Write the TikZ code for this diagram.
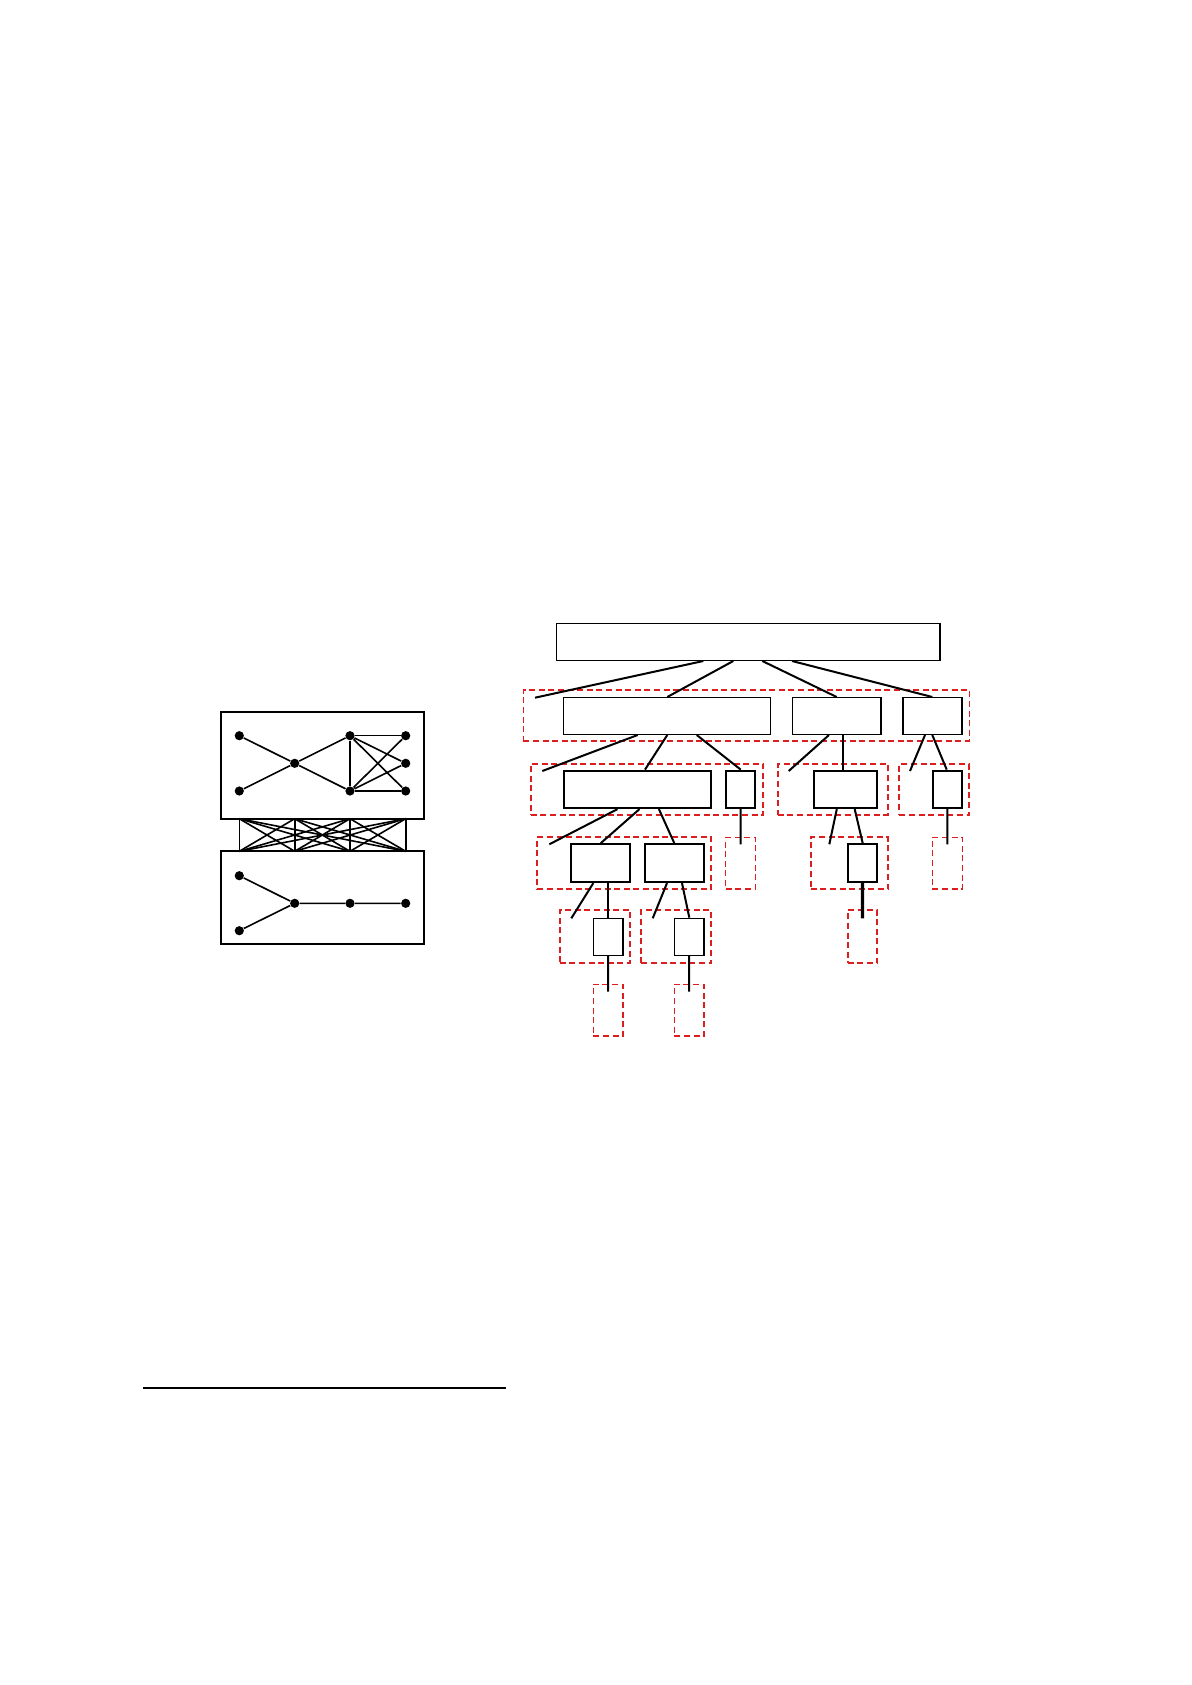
\documentclass[tikz,border=0pt]{standalone}
\usetikzlibrary{fit}
\definecolor{dred}{RGB}{220,30,30}
\tikzset{
  box/.style={draw,inner sep=0pt,line width=0.7pt},
  tbox/.style={box,line width=1.1pt},
  grp/.style={draw=dred,dash pattern=on 3pt off 1.8pt,inner sep=0pt,line width=0.7pt},
  tgrp/.style={grp,line width=1.1pt},
  edge/.style={line width=1pt},
  dot/.style={circle,fill,inner sep=0pt,minimum size=4.6pt},
}
\begin{document}
\begin{tikzpicture}[x=0.5pt,y=-0.5pt]
\useasboundingbox (0,0) rectangle (1191,1685);

% left: two blocks joined by a complete band
\node[box,line width=1.1pt,fit={(220.7,712) (424,818.7)}] (up) {};
\node[box,line width=1.1pt,fit={(220.7,851.3) (424,944.3)}] (lo) {};
\node[dot] (u1) at (239.3,735.7) {};
\node[dot] (u2) at (239.3,791) {};
\node[dot] (uc) at (294.7,763.3) {};
\node[dot] (ud1) at (350,735.7) {};
\node[dot] (ud2) at (350,791) {};
\node[dot] (ue1) at (405.7,735.7) {};
\node[dot] (ue2) at (405.7,763.3) {};
\node[dot] (ue3) at (405.7,791) {};
\draw[edge,line width=0.8pt] (u1)--(uc)--(ud1) (u2)--(uc)--(ud2);
\draw[edge,line width=1.1pt] (ud1)--(ud2);
\draw[line width=0.6pt] (ud1)--(ue1) (ud2)--(ue3);
\draw[edge,line width=0.8pt] (ud1)--(ue2) (ud1)--(ue3) (ud2)--(ue1) (ud2)--(ue2);
\foreach \x [count=\i] in {239.3,294.7,350,405.7} {
  \coordinate (t\i) at (\x,818.7);
  \coordinate (b\i) at (\x,851.3);
}
\foreach \i in {1,...,4}
  \foreach \j in {1,...,4}
    \draw[line width=0.8pt] (t\i)--(b\j);
\node[dot] (l1) at (239.3,875.7) {};
\node[dot] (l2) at (239.3,930.7) {};
\node[dot] (lc) at (294.7,903.3) {};
\node[dot] (ld) at (350,903.3) {};
\node[dot] (le) at (405.7,903.3) {};
\draw[edge,line width=0.8pt] (l1)--(lc) (l2)--(lc) (lc)--(ld)--(le);

% right: tree with dashed groups
\node[box,fit={(556.3,623.7) (940,660.3)}] (top) {};
\node[grp,fit={(523.3,690) (969.3,741)}] (g1) {};
\node[box,fit={(563.7,697.7) (770.3,734.3)}] (A) {};
\node[box,fit={(792.3,697.7) (881,734.3)}] (B) {};
\node[box,fit={(903,697.7) (962,734.3)}] (C) {};
\coordinate (f1) at (535,697.7);
\draw[edge] (top.south -| 703.3,0) -- (f1);
\draw[edge] (top.south -| 733.3,0) -- (A.north -| 667.3,0);
\draw[edge] (top.south -| 762.3,0) -- (B.north -| 836.7,0);
\draw[edge] (top.south -| 792,0) -- (C.north -| 932.3,0);

\node[tgrp,fit={(530.7,764) (763.3,815)}] (g21) {};
\node[tgrp,fit={(777.7,764) (887.7,815)}] (g22) {};
\node[tgrp,fit={(899.3,764) (969,815)}] (g23) {};
\node[tbox,fit={(563.7,770.7) (711.3,808)}] (A1) {};
\node[tbox,fit={(726,770.7) (755.3,808)}] (A2) {};
\node[tbox,fit={(814.3,770.7) (877,808)}] (B1) {};
\node[tbox,fit={(932.7,770.7) (962,808)}] (C1) {};
\coordinate (f2) at (542.3,771);
\coordinate (f3) at (788.7,771);
\coordinate (f4) at (910,771);
\draw[edge] (A.south -| 637.7,0) -- (f2);
\draw[edge] (A.south -| 667.3,0) -- (A1.north -| 645,0);
\draw[edge] (A.south -| 696.7,0) -- (A2.north -| 740.7,0);
\draw[edge] (B.south -| 829,0) -- (f3);
\draw[edge] (B.south -| 843.3,0) -- (B1.north -| 843.3,0);
\draw[edge] (C.south -| 925,0) -- (f4);
\draw[edge] (C.south -| 932.3,0) -- (C1.north -| 946.7,0);

\node[tgrp,fit={(537.3,837.3) (711.3,889)}] (g31) {};
\node[grp,fit={(725.7,837.3) (755.3,889)}] (g32) {};
\node[tgrp,fit={(810.7,837.3) (888,889)}] (g33) {};
\node[grp,fit={(932.3,837.3) (962.3,889)}] (g34) {};
\node[tbox,fit={(571.3,844.3) (630,882)}] (F1) {};
\node[tbox,fit={(644.7,844.3) (704,882)}] (F2) {};
\node[tbox,fit={(847.7,844.3) (877.3,882)}] (F3) {};
\coordinate (f5) at (549.3,844.3);
\coordinate (f6) at (740.7,844.3);
\coordinate (f7) at (829.3,844.3);
\coordinate (f8) at (947.3,844.3);
\draw[edge] (A1.south -| 617.5,0) -- (f5);
\draw[edge] (A1.south -| 639.5,0) -- (F1.north -| 600.7,0);
\draw[edge] (A1.south -| 658.9,0) -- (F2.north -| 674.3,0);
\draw[edge] (A2.south) -- (f6);
\draw[edge] (B1.south -| 836.8,0) -- (f7);
\draw[edge] (B1.south -| 854.7,0) -- (F3.north -| 862.7,0);
\draw[edge] (C1.south) -- (f8);

\node[tgrp,fit={(559.7,910) (630.3,962.7)}] (g41) {};
\node[tgrp,fit={(641.3,910) (711.3,962.7)}] (g42) {};
\node[tgrp,fit={(847.7,910) (877.3,962.7)}] (g43) {};
\node[box,fit={(593.3,918.3) (623,955.3)}] (H1) {};
\node[box,fit={(674.3,918.3) (704,955.3)}] (H2) {};
\coordinate (f9) at (571.3,918.3);
\coordinate (f10) at (652.7,918.3);
\coordinate (f11) at (862.5,918.3);
\draw[edge] (F1.south -| 593.3,0) -- (f9);
\draw[edge] (F1.south -| 608,0) -- (H1.north -| 608,0);
\draw[edge] (F2.south -| 667,0) -- (f10);
\draw[edge] (F2.south -| 682,0) -- (H2.north -| 689.3,0);
\draw[edge,line width=1.7pt] (F3.south) -- (f11);

\node[grp,fit={(593.3,984.3) (623,1036)}] (g51) {};
\node[grp,fit={(674.3,984.3) (704,1036)}] (g52) {};
\coordinate (f12) at (608.2,991.7);
\coordinate (f13) at (689.2,991.7);
\draw[edge] (H1.south) -- (f12);
\draw[edge] (H2.south) -- (f13);

% rule at the foot
\draw[line width=1.1pt] (143,1388) -- (506,1388);
\end{tikzpicture}
\end{document}
